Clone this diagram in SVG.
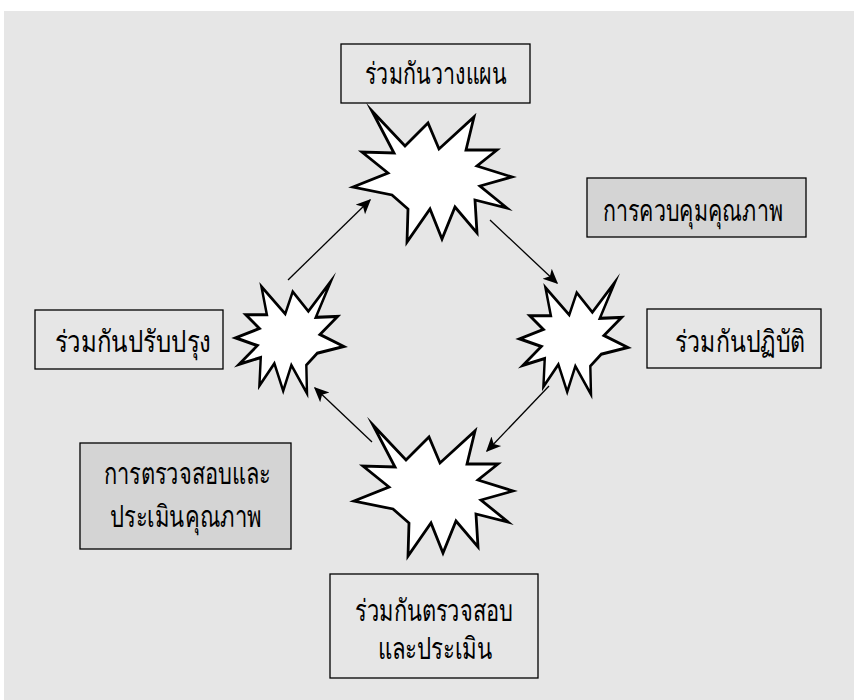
<svg xmlns="http://www.w3.org/2000/svg" width="856" height="700" viewBox="0 0 856 700">
<defs>
<style>
.box{fill:none;stroke:#000;stroke-width:1.3}
.gbox{fill:#d4d4d4;stroke:#000;stroke-width:1.3}
.star{fill:#fff;stroke:#000;stroke-width:2.8;stroke-linejoin:miter;stroke-miterlimit:10}
.t{font-family:"Noto Sans","Liberation Sans","Noto Sans CJK SC",sans-serif;font-size:30px;fill:#000;text-anchor:middle}
.conn{stroke:#000;stroke-width:1.3;fill:none;marker-end:url(#ah)}
</style>
<marker id="ah" viewBox="0 0 10 10" refX="9" refY="5" markerWidth="15" markerHeight="15" markerUnits="userSpaceOnUse" orient="auto">
<path d="M0,0.5 L10,5 L0,9.5 L2.5,5 Z" fill="#000"/>
</marker>
<path id="starShape" d="M-60,-65 L-27,-30 L-4,-53 L7,-27 L42,-59 L34,-26 L65,-26 L45,-10 L80,1 L48,10 L75,32 L43,24 L45,57 L23,31 L10,63 L-2,33 L-25,66 L-24,33 L-40,19 L-79,11 L-44,-3 L-70,-24 L-38,-23 Z"/>
</defs>
<rect x="4" y="11" width="850" height="700" fill="#e6e6e6"/>
<g id="star-top"><use href="#starShape" class="star" transform="translate(432,176)"/></g>
<g id="star-right"><use href="#starShape" class="star" transform="translate(574,338) scale(-0.68,0.855)" style="stroke-width:3.6"/></g>
<g id="star-left"><use href="#starShape" class="star" transform="translate(290,337) scale(-0.68,0.855)" style="stroke-width:3.6"/></g>
<g id="star-bottom"><use href="#starShape" class="star" transform="translate(433,490)"/></g>
<g id="connectors">
<line class="conn" x1="288" y1="280" x2="370" y2="200"/>
<line class="conn" x1="490" y1="220" x2="557" y2="283"/>
<line class="conn" x1="549" y1="386" x2="487" y2="451"/>
<line class="conn" x1="372" y1="442" x2="315" y2="388"/>
</g>
<g id="node-plan"><rect class="box" x="341" y="44" width="189" height="59"/><text class="t" x="436" y="84" textLength="142" lengthAdjust="spacingAndGlyphs">ร่วมกันวางแผน</text></g>
<g id="node-control"><rect class="gbox" x="587" y="178" width="219" height="59"/><text class="t" x="693" y="221" textLength="180" lengthAdjust="spacingAndGlyphs">การควบคุมคุณภาพ</text></g>
<g id="node-do"><rect class="box" x="647" y="309" width="174" height="59"/><text class="t" x="740" y="352" textLength="130" lengthAdjust="spacingAndGlyphs">ร่วมกันปฏิบัติ</text></g>
<g id="node-improve"><rect class="box" x="35" y="310" width="188" height="59"/><text class="t" x="133" y="352" textLength="157" lengthAdjust="spacingAndGlyphs">ร่วมกันปรับปรุง</text></g>
<g id="node-assess"><rect class="gbox" x="80" y="443" width="211" height="106"/><text class="t" x="187" y="484" textLength="167" lengthAdjust="spacingAndGlyphs">การตรวจสอบและ</text><text class="t" x="186" y="527" textLength="152" lengthAdjust="spacingAndGlyphs">ประเมินคุณภาพ</text></g>
<g id="node-check"><rect class="box" x="330" y="574" width="208" height="104"/><text class="t" x="434" y="621" textLength="158" lengthAdjust="spacingAndGlyphs">ร่วมกันตรวจสอบ</text><text class="t" x="435" y="659" textLength="115" lengthAdjust="spacingAndGlyphs">และประเมิน</text></g>
</svg>
